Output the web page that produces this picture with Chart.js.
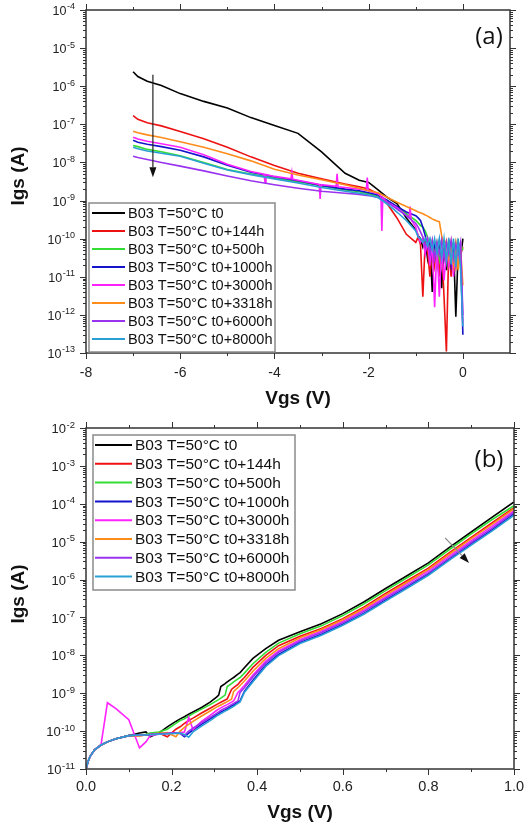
<!DOCTYPE html>
<html>
<head>
<meta charset="utf-8">
<title>Igs - Vgs</title>
<script src="https://cdn.jsdelivr.net/npm/chart.js@4.4.1/dist/chart.umd.min.js"></script>
<style>
  html, body { margin: 0; padding: 0; background: #fff; }
  .panel { position: relative; width: 525px; height: 415px; }
</style>
</head>
<body>
<div class="panel"><canvas id="chartA"></canvas></div>
<div class="panel"><canvas id="chartB"></canvas></div>
<script>
const labels = ['B03 T=50°C t0', 'B03 T=50°C t0+144h', 'B03 T=50°C t0+500h', 'B03 T=50°C t0+1000h',
  'B03 T=50°C t0+3000h', 'B03 T=50°C t0+3318h', 'B03 T=50°C t0+6000h', 'B03 T=50°C t0+8000h'];
const colors = ['#000000', '#ee1111', '#33dd33', '#1414cc', '#ff22ff', '#ff8c1a', '#9933ee', '#2a9fd6'];

// ---- (a) negative Vgs sweep ----
const vgsA = [-7, -6.9, -6.7, -6.4, -6, -5.5, -5, -4.5, -4, -3.5, -3, -2.5, -2.2, -2, -1.8, -1.6, -1.4, -1.2, -1,
  -0.95, -0.9, -0.85, -0.8, -0.75, -0.7, -0.65, -0.6, -0.55, -0.5, -0.45, -0.4, -0.35, -0.3, -0.25, -0.2, -0.15, -0.1, -0.05, 0];
const igsA_t0 = [2.4e-6, 1.8e-6, 1.35e-6, 1.05e-6, 6.4e-7, 4.0e-7, 2.7e-7, 1.5e-7, 9.3e-8, 5.8e-8, 1.9e-8, 5.2e-9, 3.4e-9, 3.0e-9, 1.9e-9, 1.2e-9, 8.3e-10, 3.5e-10, 1.7e-10,
  1.2e-10, 1.0e-10, 6e-11, 9e-11, 3e-11, 8e-11, 4e-12, 7e-11, 2e-11, 8e-11, 5e-12, 6e-11, 1.5e-11, 7e-11, 2e-11, 8e-11, 9e-13, 5e-11, 3e-11, 1e-10];
const igsA_144 = [1.7e-7, 1.35e-7, 1.1e-7, 9.1e-8, 6.5e-8, 4.2e-8, 2.5e-8, 1.4e-8, 8.3e-9, 5.2e-9, 3.7e-9, 2.7e-9, 2.3e-9, 2.0e-9, 1.5e-9, 8e-10, 3.5e-10, 1.3e-10, 8e-11,
  1.1e-10, 7e-11, 3e-12, 8e-11, 5e-11, 1e-11, 7e-11, 2e-11, 8e-11, 1e-11, 6e-11, 3e-12, 1.1e-13, 6e-11, 1e-11, 7e-11, 2e-11, 8e-11, 4e-11, 6e-11];
const igsA_500 = [2.8e-8, 2.6e-8, 2.2e-8, 1.9e-8, 1.5e-8, 1.0e-8, 6.5e-9, 5e-9, 3.9e-9, 3.1e-9, 2.4e-9, 1.9e-9, 1.7e-9, 1.5e-9, 1.3e-9, 9e-10, 6.5e-10, 4.5e-10, 3e-10,
  2.6e-10, 2.2e-10, 2e-10, 1.6e-10, 1.1e-10, 5e-11, 9e-11, 4e-11, 8e-11, 3e-11, 9e-11, 4e-11, 8e-11, 3e-11, 7e-11, 4e-11, 8e-11, 3e-11, 7e-11, 5e-11];
const igsA_1000 = [3.8e-8, 3.4e-8, 3.0e-8, 2.6e-8, 2.1e-8, 1.4e-8, 8.5e-9, 5.5e-9, 4.2e-9, 3.3e-9, 2.5e-9, 2.0e-9, 1.8e-9, 1.6e-9, 1.4e-9, 1.0e-9, 7e-10, 5e-10, 4e-10,
  3.5e-10, 3e-10, 2e-10, 1.2e-10, 6e-11, 9e-11, 3e-11, 8e-11, 4e-11, 9e-11, 3e-11, 7e-11, 4e-11, 8e-11, 2e-11, 6e-11, 3e-11, 7e-11, 5e-11, 3e-13];
const vgsA_3000 = [-7, -6.9, -6.7, -6.4, -6, -5.5, -5, -4.5, -4.22, -4.2, -4.18, -4, -3.65, -3.63, -3.61, -3.5, -3.05, -3.03, -3.01,
  -2.69, -2.67, -2.65, -2.5, -2.2, -2.05, -2.03, -2.01, -1.8, -1.74, -1.72, -1.7, -1.6, -1.4, -1.2, -1.14, -1.12, -1.1, -1,
  -0.95, -0.9, -0.85, -0.8, -0.75, -0.7, -0.65, -0.6, -0.55, -0.5, -0.45, -0.4, -0.35, -0.3, -0.25, -0.2, -0.15, -0.1, -0.05, 0];
const igsA_3000 = [4.6e-8, 4.1e-8, 3.6e-8, 3.1e-8, 2.5e-8, 1.6e-8, 9e-9, 5.8e-9, 4.9e-9, 3.0e-9, 4.8e-9, 4.3e-9, 3.7e-9, 5.5e-9, 3.6e-9, 3.4e-9, 2.65e-9, 1.1e-9, 2.6e-9,
  2.35e-9, 5e-9, 2.3e-9, 2.2e-9, 2.0e-9, 1.85e-9, 4e-9, 1.8e-9, 1.5e-9, 1.3e-9, 1.6e-10, 1.2e-9, 9e-10, 6.5e-10, 4e-10, 3.5e-10, 7e-10, 3.2e-10, 2e-10,
  1.2e-10, 8e-11, 1e-10, 4e-11, 9e-11, 2e-11, 8e-11, 1.6e-12, 7e-11, 3e-12, 6e-11, 8e-12, 5e-11, 2e-11, 6e-11, 1e-11, 7e-11, 3e-11, 8e-11, 6e-13];
const igsA_3318 = [6.6e-8, 6.0e-8, 5.3e-8, 4.5e-8, 3.5e-8, 2.5e-8, 1.7e-8, 1.1e-8, 6.6e-9, 4.7e-9, 3.5e-9, 2.6e-9, 2.1e-9, 1.8e-9, 1.6e-9, 1.2e-9, 9e-10, 7e-10, 5.4e-10,
  5e-10, 4.8e-10, 4.5e-10, 4.2e-10, 3.9e-10, 3.6e-10, 3.3e-10, 3.1e-10, 2.9e-10, 2.8e-10, 1.2e-10, 6e-11, 9e-11, 3e-11, 8e-11, 2e-11, 7e-11, 1.5e-11, 6e-11, 6e-12];
const igsA_6000 = [1.45e-8, 1.35e-8, 1.2e-8, 1.0e-8, 8e-9, 6e-9, 4.4e-9, 3.3e-9, 2.6e-9, 2.1e-9, 1.75e-9, 1.55e-9, 1.45e-9, 1.35e-9, 1.2e-9, 9e-10, 6e-10, 4e-10, 2.5e-10,
  2e-10, 1.5e-10, 1.1e-10, 6e-11, 1e-10, 4e-11, 9e-11, 3e-11, 8e-11, 4e-11, 9e-11, 3e-11, 8e-11, 4e-11, 9e-11, 3e-11, 7e-11, 4e-11, 8e-11, 1e-12];
const igsA_8000 = [2.5e-8, 2.3e-8, 2.0e-8, 1.75e-8, 1.45e-8, 9.5e-9, 6.3e-9, 4.8e-9, 3.7e-9, 2.9e-9, 2.2e-9, 1.75e-9, 1.55e-9, 1.4e-9, 1.2e-9, 8e-10, 5e-10, 3e-10, 1.6e-10,
  1.1e-10, 1e-10, 8e-11, 1e-10, 6.5e-11, 1e-10, 5e-11, 1e-10, 4e-11, 1e-10, 3.2e-11, 1e-10, 2.6e-11, 1e-10, 2.1e-11, 1e-10, 1.8e-11, 1e-10, 1.6e-11, 5e-13];

const xTicksA = [-8, -6, -4, -2, 0];
const xLabelsA = ['-8', '-6', '-4', '-2', '0'];
const xMinorA = [-7, -5, -3, -1];
const yExpA = [-13, -12, -11, -10, -9, -8, -7, -6, -5, -4];
const arrowA_v = [-6.58, -6.58];
const arrowA_i = [2.0e-6, 4.1e-9];

// ---- (b) positive Vgs sweep ----
const vgsB = [0, 0.005, 0.01, 0.02, 0.035, 0.05, 0.07, 0.1, 0.125, 0.14, 0.15, 0.17, 0.19, 0.21, 0.22, 0.23, 0.24, 0.25,
  0.27, 0.29, 0.305, 0.31, 0.315, 0.325, 0.33, 0.34, 0.345, 0.355, 0.36, 0.37,
  0.39, 0.42, 0.45, 0.5, 0.55, 0.6, 0.65, 0.7, 0.75, 0.8, 0.85, 0.9, 0.95, 1.0];
const igsB_t0 = [1.0e-11, 1.6e-11, 2.2e-11, 3.2e-11, 4.3e-11, 5.2e-11, 6.3e-11, 7.6e-11, 8.9e-11, 9.5e-11, 7.1e-11, 8.9e-11, 1.3e-10, 1.8e-10, 2.1e-10, 2.4e-10, 2.8e-10, 3.2e-10,
  4.2e-10, 5.8e-10, 7.9e-10, 8.9e-10, 1.5e-9, 1.8e-9, 2.0e-9, 2.4e-9, 2.6e-9, 3.2e-9, 3.5e-9, 4.7e-9,
  8.3e-9, 1.5e-8, 2.5e-8, 4.2e-8, 6.8e-8, 1.26e-7, 2.6e-7, 5.8e-7, 1.26e-6, 2.75e-6, 7.2e-6, 1.8e-5, 4.5e-5, 1.12e-4];
const igsB_144 = [1.0e-11, 1.6e-11, 2.2e-11, 3.2e-11, 4.3e-11, 5.2e-11, 6.3e-11, 7.6e-11, 7.6e-11, 7.9e-11, 8.3e-11, 8.9e-11, 7.1e-11, 1.12e-10, 1.3e-10, 1.6e-10, 1.9e-10, 2.2e-10,
  3e-10, 4e-10, 5e-10, 5.4e-10, 5.8e-10, 6.6e-10, 7.1e-10, 1.26e-9, 1.4e-9, 1.7e-9, 2.0e-9, 2.6e-9,
  4.8e-9, 1e-8, 1.8e-8, 3.2e-8, 5.1e-8, 9.3e-8, 1.9e-7, 4.3e-7, 9.3e-7, 2.0e-6, 5.2e-6, 1.3e-5, 3.2e-5, 7.9e-5];
const igsB_500 = [1.0e-11, 1.6e-11, 2.2e-11, 3.2e-11, 4.3e-11, 5.2e-11, 6.3e-11, 7.6e-11, 7.9e-11, 8.3e-11, 8.9e-11, 9.5e-11, 1.12e-10, 1.6e-10, 1.9e-10, 2.1e-10, 2.5e-10, 2.9e-10,
  3.8e-10, 5e-10, 6.3e-10, 6.8e-10, 7.4e-10, 8.9e-10, 1.5e-9, 1.8e-9, 2.0e-9, 2.4e-9, 2.6e-9, 3.4e-9,
  6e-9, 1.2e-8, 2.1e-8, 3.7e-8, 6e-8, 1.12e-7, 2.3e-7, 5.1e-7, 1.12e-6, 2.45e-6, 6.3e-6, 1.6e-5, 3.9e-5, 8.9e-5];
const igsB_1000 = [1.0e-11, 1.6e-11, 2.2e-11, 3.2e-11, 4.3e-11, 5.2e-11, 6.3e-11, 7.6e-11, 7.9e-11, 7.9e-11, 8.1e-11, 8.5e-11, 8.7e-11, 8.9e-11, 8.7e-11, 7.1e-11, 8.9e-11, 1.07e-10,
  1.5e-10, 2.1e-10, 2.7e-10, 2.9e-10, 3.2e-10, 3.6e-10, 3.9e-10, 4.6e-10, 4.9e-10, 5.8e-10, 6.3e-10, 1.12e-9,
  2.2e-9, 5.5e-9, 1.05e-8, 2.2e-8, 3.6e-8, 6.6e-8, 1.3e-7, 2.9e-7, 6.3e-7, 1.4e-6, 3.5e-6, 8.7e-6, 2.1e-5, 5.4e-5];
const igsB_3000 = [1.0e-11, 1.6e-11, 2.2e-11, 3.2e-11, 4.3e-11, 5.6e-10, 3.9e-10, 2.0e-10, 3.6e-11, 5.2e-11, 7.6e-11, 8.3e-11, 8.7e-11, 8.9e-11, 9.1e-11, 9.5e-11, 2.3e-10, 1.1e-10,
  1.8e-10, 2.6e-10, 3.5e-10, 3.8e-10, 4.1e-10, 4.7e-10, 5e-10, 5.8e-10, 6.3e-10, 1.05e-9, 1.2e-9, 1.6e-9,
  3e-9, 7.1e-9, 1.3e-8, 2.6e-8, 4.4e-8, 7.9e-8, 1.6e-7, 3.5e-7, 7.8e-7, 1.7e-6, 4.3e-6, 1.07e-5, 2.6e-5, 6.6e-5];
const igsB_3318 = [1.0e-11, 1.6e-11, 2.2e-11, 3.2e-11, 4.3e-11, 5.2e-11, 6.3e-11, 7.6e-11, 7.6e-11, 7.9e-11, 8.3e-11, 8.7e-11, 9.1e-11, 7.1e-11, 1e-10, 1.26e-10, 1.5e-10, 1.8e-10,
  2.5e-10, 3.4e-10, 4.3e-10, 4.6e-10, 4.9e-10, 5.6e-10, 6e-10, 6.9e-10, 1.12e-9, 1.4e-9, 1.6e-9, 2.1e-9,
  3.8e-9, 8.3e-9, 1.5e-8, 2.9e-8, 4.8e-8, 8.7e-8, 1.74e-7, 3.9e-7, 8.5e-7, 1.86e-6, 4.8e-6, 1.2e-5, 2.95e-5, 7.4e-5];
const igsB_6000 = [1.0e-11, 1.6e-11, 2.2e-11, 3.2e-11, 4.3e-11, 5.2e-11, 6.3e-11, 7.6e-11, 7.9e-11, 7.9e-11, 8.3e-11, 8.5e-11, 8.7e-11, 8.9e-11, 8.7e-11, 7.6e-11, 1e-10, 1.2e-10,
  1.66e-10, 2.3e-10, 2.95e-10, 3.2e-10, 3.5e-10, 4e-10, 4.3e-10, 5e-10, 5.4e-10, 6.3e-10, 1.05e-9, 1.4e-9,
  2.7e-9, 6.3e-9, 1.2e-8, 2.4e-8, 4e-8, 7.2e-8, 1.45e-7, 3.2e-7, 6.9e-7, 1.5e-6, 3.8e-6, 9.5e-6, 2.3e-5, 6e-5];
const igsB_8000 = [1.0e-11, 1.6e-11, 2.2e-11, 3.2e-11, 4.3e-11, 5.2e-11, 6.3e-11, 7.6e-11, 7.9e-11, 7.9e-11, 8.1e-11, 8.3e-11, 8.5e-11, 8.7e-11, 8.9e-11, 8.1e-11, 6.9e-11, 9.5e-11,
  1.35e-10, 1.9e-10, 2.5e-10, 2.7e-10, 2.9e-10, 3.4e-10, 3.6e-10, 4.2e-10, 4.5e-10, 5.4e-10, 5.9e-10, 1.05e-9,
  2.0e-9, 5.1e-9, 9.8e-9, 2.05e-8, 3.4e-8, 6.2e-8, 1.23e-7, 2.7e-7, 5.9e-7, 1.3e-6, 3.3e-6, 8.1e-6, 1.95e-5, 5e-5];

const xTicksB = [0, 0.2, 0.4, 0.6, 0.8, 1.0];
const xLabelsB = ['0.0', '0.2', '0.4', '0.6', '0.8', '1.0'];
const xMinorB = [0.1, 0.3, 0.5, 0.7, 0.9];
const yExpB = [-11, -10, -9, -8, -7, -6, -5, -4, -3, -2];
const arrowB_v = [0.839, 0.895];
const arrowB_i = [1.26e-5, 2.75e-6];

const FONT = '"Liberation Sans", Arial, sans-serif';

function makeDatasets(series) {
  return series.map(([xs, ys], k) => ({
    label: labels[k],
    data: xs.map((x, j) => ({ x: x, y: ys[j] })),
    borderColor: colors[k],
    backgroundColor: colors[k],
    borderWidth: 1.6,
    pointRadius: 0,
    tension: 0,
    order: series.length - 1 - k   // last series drawn on top
  }));
}

// frame, ticks, labels, legend and arrow, all placed through the chart scales
const boxPlugin = {
  id: 'box',
  afterDatasetsDraw(chart, args, o) {
    const ctx = chart.ctx, xs = chart.scales.x, ys = chart.scales.y;
    const x0 = xs.getPixelForValue(o.arrowV[0]), y0 = ys.getPixelForValue(o.arrowI[0]);
    const x1 = xs.getPixelForValue(o.arrowV[1]), y1 = ys.getPixelForValue(o.arrowI[1]);
    const ang = Math.atan2(y1 - y0, x1 - x0), c = Math.cos(ang), s = Math.sin(ang);
    const hl = 10, hw = 3.5;
    ctx.save();
    ctx.strokeStyle = o.arrowColor;
    ctx.lineWidth = 1.2;
    ctx.beginPath();
    ctx.moveTo(x0, y0);
    ctx.lineTo(x1 - hl * c, y1 - hl * s);
    ctx.stroke();
    ctx.fillStyle = '#111';
    ctx.beginPath();
    ctx.moveTo(x1, y1);
    ctx.lineTo(x1 - hl * c - hw * s, y1 - hl * s + hw * c);
    ctx.lineTo(x1 - hl * c + hw * s, y1 - hl * s - hw * c);
    ctx.closePath();
    ctx.fill();
    ctx.restore();
  },
  afterDraw(chart, args, o) {
    const { ctx, chartArea: a } = chart;
    const xs = chart.scales.x, ys = chart.scales.y;
    ctx.save();

    // ticks on all four sides, pointing out
    ctx.strokeStyle = '#333';
    ctx.lineWidth = 1;
    ctx.beginPath();
    const vt = (px, len) => {
      px = Math.round(px) + 0.5;
      ctx.moveTo(px, a.bottom); ctx.lineTo(px, a.bottom + len);
      ctx.moveTo(px, a.top); ctx.lineTo(px, a.top - len);
    };
    const ht = (py, len) => {
      py = Math.round(py) + 0.5;
      ctx.moveTo(a.left, py); ctx.lineTo(a.left - len, py);
      ctx.moveTo(a.right, py); ctx.lineTo(a.right + len, py);
    };
    o.xMinor.forEach(v => vt(xs.getPixelForValue(v), 3));
    o.xTicks.forEach(v => vt(xs.getPixelForValue(v), 6));
    o.yExp.forEach((e, k) => {
      const dec = Math.pow(10, e);
      ht(ys.getPixelForValue(dec), 6);
      if (k < o.yExp.length - 1) {
        for (let m = 2; m <= 9; m++) ht(ys.getPixelForValue(m * dec), 3);
      }
    });
    ctx.stroke();

    ctx.lineWidth = 1.5;
    ctx.strokeRect(a.left, a.top, a.right - a.left, a.bottom - a.top);

    // x tick labels
    ctx.fillStyle = '#222';
    ctx.textAlign = 'center';
    ctx.textBaseline = 'middle';
    ctx.font = o.xFont + 'px ' + FONT;
    o.xTicks.forEach((v, k) => ctx.fillText(o.xLabels[k], xs.getPixelForValue(v), a.bottom + o.xGap));

    // y tick labels: 10 with a raised exponent
    ctx.textAlign = 'right';
    o.yExp.forEach(e => {
      const py = ys.getPixelForValue(Math.pow(10, e));
      const sup = String(e);
      ctx.font = o.supFont + 'px ' + FONT;
      const w = ctx.measureText(sup).width;
      ctx.fillText(sup, a.left - 11, py - 3);
      ctx.font = o.yFont + 'px ' + FONT;
      ctx.fillText('10', a.left - 11 - w - 0.5, py + 1.5);
    });

    // axis titles
    ctx.fillStyle = '#111';
    ctx.font = 'bold 19px ' + FONT;
    ctx.textAlign = 'center';
    ctx.fillText('Vgs (V)', (a.left + a.right) / 2, a.bottom + o.titleGap);
    ctx.save();
    ctx.translate(19, o.yTitleY);
    ctx.rotate(-Math.PI / 2);
    ctx.fillText('Igs (A)', 0, 0);
    ctx.restore();

    // panel tag
    ctx.font = '24px "Open Sans", ' + FONT;
    ctx.fillText(o.tag, 489, o.tagY);

    // legend
    const L = o.legend;
    ctx.fillStyle = '#fff';
    ctx.fillRect(L.x, L.y, L.w, L.h);
    ctx.strokeStyle = '#8a8a8a';
    ctx.lineWidth = 1.5;
    ctx.strokeRect(L.x, L.y, L.w, L.h);
    ctx.font = L.font + 'px ' + FONT;
    ctx.textAlign = 'left';
    chart.data.datasets.forEach((d, k) => {
      const y = L.y + L.first + k * L.row;
      ctx.strokeStyle = d.borderColor;
      ctx.lineWidth = 2;
      ctx.beginPath();
      ctx.moveTo(L.x + L.lineFrom, y);
      ctx.lineTo(L.x + L.lineTo, y);
      ctx.stroke();
      ctx.fillStyle = '#111';
      ctx.fillText(d.label, L.x + L.text, y + 1);
    });
    ctx.restore();
  }
};

function makeChart(id, series, xMin, xMax, yMin, yMax, padding, box) {
  return new Chart(document.getElementById(id), {
    type: 'line',
    data: { datasets: makeDatasets(series) },
    options: {
      responsive: true,
      maintainAspectRatio: false,
      animation: false,
      events: [],
      layout: { padding: padding },
      scales: {
        x: { type: 'linear', min: xMin, max: xMax, display: false },
        y: { type: 'logarithmic', min: yMin, max: yMax, display: false }
      },
      plugins: {
        legend: { display: false },
        tooltip: { enabled: false },
        box: box
      }
    },
    plugins: [boxPlugin]
  });
}

makeChart('chartA', [
  [vgsA, igsA_t0], [vgsA, igsA_144], [vgsA, igsA_500], [vgsA, igsA_1000],
  [vgsA_3000, igsA_3000], [vgsA, igsA_3318], [vgsA, igsA_6000], [vgsA, igsA_8000]
], -8, 1, 1e-13, 1e-4, { left: 86, top: 10, right: 15, bottom: 62 }, {
  xTicks: xTicksA, xLabels: xLabelsA, xMinor: xMinorA, yExp: yExpA,
  xFont: 14, yFont: 12.5, supFont: 9, xGap: 20, titleGap: 46, yTitleY: 176,
  tag: '(a)', tagY: 37,
  arrowV: arrowA_v, arrowI: arrowA_i, arrowColor: '#222',
  legend: { x: 89, y: 203, w: 186, h: 149, first: 10, row: 18, lineFrom: 3, lineTo: 36, text: 39, font: 14.5 }
});

makeChart('chartB', [
  [vgsB, igsB_t0], [vgsB, igsB_144], [vgsB, igsB_500], [vgsB, igsB_1000],
  [vgsB, igsB_3000], [vgsB, igsB_3318], [vgsB, igsB_6000], [vgsB, igsB_8000]
], 0, 1, 1e-11, 1e-2, { left: 86, top: 13, right: 11, bottom: 61 }, {
  xTicks: xTicksB, xLabels: xLabelsB, xMinor: xMinorB, yExp: yExpB,
  xFont: 14.5, yFont: 13, supFont: 9.5, xGap: 18, titleGap: 44, yTitleY: 179,
  tag: '(b)', tagY: 45,
  arrowV: arrowB_v, arrowI: arrowB_i, arrowColor: '#888',
  legend: { x: 93, y: 20, w: 202, h: 155, first: 10, row: 18.8, lineFrom: 2, lineTo: 39, text: 42, font: 15.5 }
});
</script>
</body>
</html>
